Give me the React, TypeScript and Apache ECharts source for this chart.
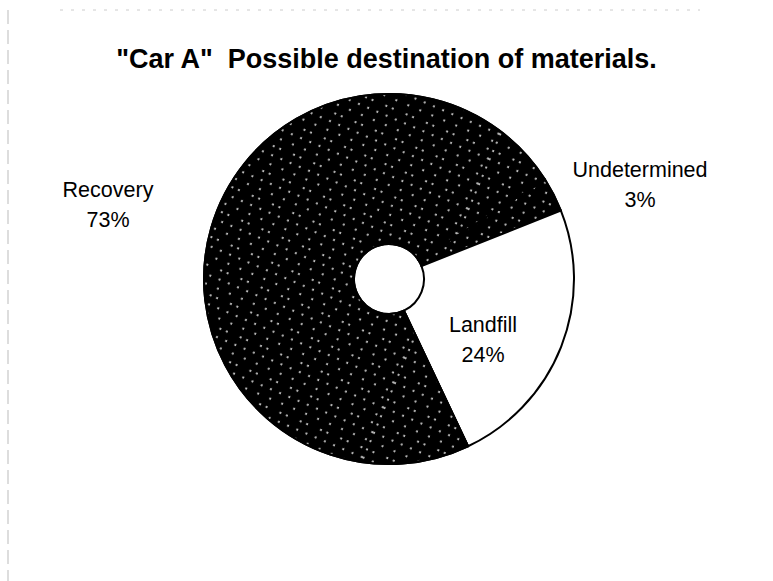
import React, { useEffect, useRef } from "react";
import * as echarts from "echarts";

const titleText = '"Car A"  Possible destination of materials.';
const categories = ["Undetermined", "Landfill", "Recovery"];
const values = [3, 24, 73];

const labelPos: Record<string, [number, number]> = {
  Undetermined: [640, 185],
  Landfill: [483, 340],
  Recovery: [108, 205],
};

const speckle = {
  symbol: "circle",
  symbolSize: 1,
  color: "rgba(255,255,255,0.85)",
  dashArrayX: [[1.4, 11], [1.4, 5, 1.4, 13], [1.4, 8]],
  dashArrayY: [1.4, 7],
  rotation: 0.4,
};

export default function App() {
  const ref = useRef<HTMLDivElement>(null);
  useEffect(() => {
    if (!ref.current) return;
    const chart = echarts.init(ref.current, undefined, { renderer: "svg" });
    const fills: Record<string, string> = {
      Undetermined: "#000000",
      Landfill: "#ffffff",
      Recovery: "#000000",
    };
    chart.setOption({
      animation: false,
      backgroundColor: "#ffffff",
      title: {
        text: titleText,
        left: "center",
        top: 40,
        textStyle: {
          fontFamily: "Liberation Sans",
          fontWeight: "bold",
          fontSize: 27,
          color: "#000",
        },
      },
      graphic: [
        { type: "line", shape: { x1: 8, y1: 10, x2: 8, y2: 581 }, style: { stroke: "#bbb", lineWidth: 1, lineDash: [14, 6] } },
        { type: "line", shape: { x1: 60, y1: 10, x2: 700, y2: 10 }, style: { stroke: "#ccc", lineWidth: 1, lineDash: [3, 8] } },
      ],
      series: [
        {
          type: "pie",
          center: [389, 279],
          radius: [35, 185],
          startAngle: 32.5,
          clockwise: true,
          avoidLabelOverlap: false,
          labelLine: { show: false },
          label: {
            show: true,
            position: "inside",
            formatter: "{b}\n{c}%",
            fontFamily: "Liberation Sans",
            fontSize: 21.5,
            lineHeight: 30,
            color: "#000",
          },
          labelLayout: (p: any) => {
            const pos = labelPos[categories[p.dataIndex]];
            return { x: pos[0], y: pos[1], align: "center", verticalAlign: "middle" };
          },
          data: categories.map((name, i) => ({
            name,
            value: values[i],
            itemStyle: {
              color: fills[name],
              borderColor: "#000",
              borderWidth: 2,
              decal: fills[name] === "#000000" ? speckle : undefined,
            },
          })),
        },
      ],
    });
    return () => chart.dispose();
  }, []);
  return (
    <div
      ref={ref}
      style={{ position: "fixed", left: 0, top: 0, width: 773, height: 581 }}
    />
  );
}
